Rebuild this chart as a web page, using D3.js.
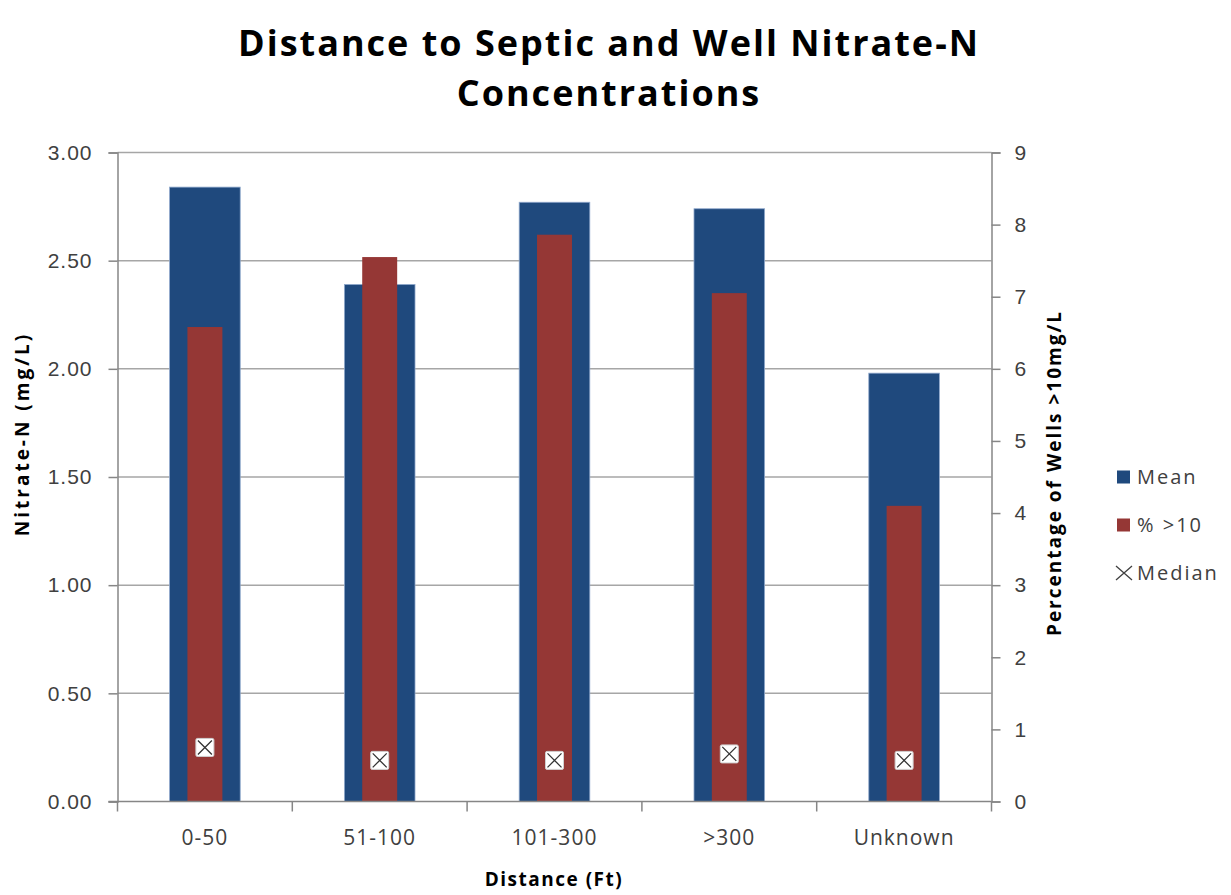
<!DOCTYPE html>
<html>
<head>
<meta charset="utf-8">
<script src="https://cdn.jsdelivr.net/npm/d3@7"></script>
<style>
  html, body { margin: 0; padding: 0; background: #fff; }
  svg { display: block; font-family: "Open Sans", "Noto Sans", sans-serif; }
</style>
</head>
<body>
<svg id="chart" width="1231" height="895"></svg>
<script>
// Distance categories (feet from septic system)
const categories = ["0-50", "51-100", "101-300", ">300", "Unknown"];
// Mean nitrate-N concentration, mg/L (left axis)
const meanValues = [2.84, 2.39, 2.77, 2.74, 1.98];
// Percentage of wells above 10 mg/L (right axis)
const pctOver10 = [6.58, 7.55, 7.86, 7.05, 4.10];
// Median nitrate-N concentration, mg/L (left axis)
const medianValues = [0.25, 0.19, 0.19, 0.22, 0.19];
// Axis tick labels
const leftTicks = [0, 0.5, 1.0, 1.5, 2.0, 2.5, 3.0];
const rightTicks = [0, 1, 2, 3, 4, 5, 6, 7, 8, 9];

const svg = d3.select("#chart");
const plot = { left: 117.5, right: 991.5, top: 152.5, bottom: 801.5 };

const x = d3.scaleBand().domain(categories).range([plot.left, plot.right]).paddingInner(0).paddingOuter(0);
const yL = d3.scaleLinear().domain([0, 3]).range([plot.bottom, plot.top]);
const yR = d3.scaleLinear().domain([0, 9]).range([plot.bottom, plot.top]);

const blue = "#1F497D", red = "#953735", grid = "#A6A6A6", axisCol = "#868686", textCol = "#404040";

// Title (two lines)
svg.append("text").attr("x", 609).attr("y", 56).attr("text-anchor", "middle")
  .attr("font-weight", "bold").attr("font-size", 36).attr("letter-spacing", 2).attr("fill", "#000")
  .text("Distance to Septic and Well Nitrate-N");
svg.append("text").attr("x", 609).attr("y", 106).attr("text-anchor", "middle")
  .attr("font-weight", "bold").attr("font-size", 36).attr("letter-spacing", 2).attr("fill", "#000")
  .text("Concentrations");

// Horizontal gridlines
svg.append("g").selectAll("line").data(leftTicks.filter(d => d > 0)).join("line")
  .attr("x1", plot.left).attr("x2", plot.right)
  .attr("y1", d => yL(d)).attr("y2", d => yL(d))
  .attr("stroke", grid).attr("stroke-width", 1.5);

// Left axis
const gL = svg.append("g").attr("transform", `translate(${plot.left},0)`)
  .call(d3.axisLeft(yL).tickValues(leftTicks).tickFormat(d3.format(".2f")).tickSizeOuter(0).tickSize(9).tickPadding(16));
gL.select(".domain").attr("stroke", axisCol).attr("stroke-width", 1.5);
gL.selectAll(".tick line").attr("stroke", axisCol).attr("stroke-width", 1.5);
gL.selectAll(".tick text").attr("font-size", 21).attr("letter-spacing", 1).attr("fill", textCol).attr("font-family", null);

// Right axis
const gR = svg.append("g").attr("transform", `translate(${plot.right},0)`)
  .call(d3.axisRight(yR).tickValues(rightTicks).tickFormat(d3.format("d")).tickSizeOuter(0).tickSize(9).tickPadding(14));
gR.select(".domain").attr("stroke", axisCol).attr("stroke-width", 1.5);
gR.selectAll(".tick line").attr("stroke", axisCol).attr("stroke-width", 1.5);
gR.selectAll(".tick text").attr("font-size", 21).attr("fill", textCol).attr("font-family", null);

// Mean bars (wide, behind)
const bw = x.bandwidth();
svg.append("g").selectAll("rect").data(categories).join("rect")
  .attr("x", d => x(d) + bw * 0.298).attr("width", bw * 0.404)
  .attr("y", (d, i) => yL(meanValues[i])).attr("height", (d, i) => plot.bottom - yL(meanValues[i]))
  .attr("fill", blue).attr("stroke", "#8FA8CC").attr("stroke-width", 0.8);

// Percentage bars (narrow, front)
svg.append("g").selectAll("rect").data(categories).join("rect")
  .attr("x", d => x(d) + bw * 0.4).attr("width", bw * 0.2)
  .attr("y", (d, i) => yR(pctOver10[i])).attr("height", (d, i) => plot.bottom - yR(pctOver10[i]))
  .attr("fill", red);

// Bottom axis with ticks between categories
const bottomTicks = d3.range(categories.length + 1).map(i => plot.left + i * bw);
svg.append("line").attr("x1", plot.left - 9).attr("x2", plot.right)
  .attr("y1", plot.bottom).attr("y2", plot.bottom).attr("stroke", axisCol).attr("stroke-width", 1.5);
svg.append("g").selectAll("line").data(bottomTicks).join("line")
  .attr("x1", d => d).attr("x2", d => d).attr("y1", plot.bottom).attr("y2", plot.bottom + 10)
  .attr("stroke", axisCol).attr("stroke-width", 1.5);
svg.append("g").selectAll("text").data(categories).join("text")
  .attr("x", d => x(d) + bw / 2).attr("y", 845).attr("text-anchor", "middle")
  .attr("font-size", 21).attr("letter-spacing", 1).attr("fill", textCol).text(d => d);

// Median markers
const ms = 18;
const med = svg.append("g").selectAll("g").data(categories).join("g")
  .attr("transform", (d, i) => `translate(${x(d) + bw / 2},${yL(medianValues[i])})`);
med.append("rect").attr("x", -ms / 2).attr("y", -ms / 2).attr("width", ms).attr("height", ms)
  .attr("rx", 1.5).attr("fill", "#fff").attr("stroke", "#d0d0d0").attr("stroke-width", 1);
med.append("path").attr("d", "M-7,-7L7,7M7,-7L-7,7").attr("stroke", "#333").attr("stroke-width", 1.3);

// Axis titles
svg.append("text").attr("transform", "translate(29,434) rotate(-90)").attr("text-anchor", "middle")
  .attr("font-weight", "bold").attr("font-size", 19).attr("letter-spacing", 3).attr("fill", "#000").text("Nitrate-N (mg/L)");
svg.append("text").attr("transform", "translate(1061,473) rotate(-90)").attr("text-anchor", "middle")
  .attr("font-weight", "bold").attr("font-size", 19).attr("letter-spacing", 2).attr("fill", "#000").text("Percentage of Wells >10mg/L");
svg.append("text").attr("x", 554).attr("y", 886).attr("text-anchor", "middle")
  .attr("font-weight", "bold").attr("font-size", 19).attr("letter-spacing", 1.5).attr("fill", "#000").text("Distance (Ft)");

// Legend
const legend = svg.append("g");
const legendItems = [
  { label: "Mean", color: blue, type: "rect" },
  { label: "% >10", color: red, type: "rect" },
  { label: "Median", color: "#333", type: "x" }
];
legendItems.forEach((item, i) => {
  const cy = 477 + i * 48;
  if (item.type === "rect") {
    legend.append("rect").attr("x", 1117).attr("y", cy - 6.5).attr("width", 13).attr("height", 13).attr("fill", item.color);
  } else {
    legend.append("path").attr("d", `M1116,${cy - 7}L1132,${cy + 7}M1132,${cy - 7}L1116,${cy + 7}`)
      .attr("stroke", "#404040").attr("stroke-width", 1.3);
  }
  legend.append("text").attr("x", 1137).attr("y", cy + 7).attr("font-size", 20).attr("letter-spacing", 2).attr("fill", textCol)
    .text(item.label);
});
</script>
</body>
</html>
